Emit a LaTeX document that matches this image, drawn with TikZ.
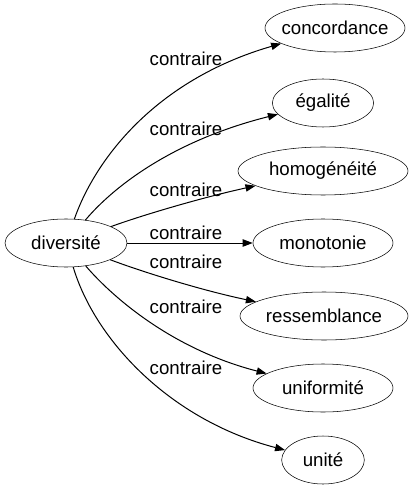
\documentclass[tikz,border=0pt]{standalone}
\usepackage{fontspec}
\setmainfont{Liberation Sans}
\usetikzlibrary{shapes.geometric,arrows.meta}

\newcommand{\mot}[1]{\makebox[0pt]{#1}}

\tikzset{
  word/.style={draw, ellipse, inner sep=0pt, minimum height=36pt,
    font=\fontsize{14}{16}\selectfont},
  rel/.style={font=\fontsize{14}{16}\selectfont, inner sep=0pt},
  link/.style={->, line width=0.75pt}
}

\begin{document}
\begin{tikzpicture}[x=0.75pt,y=-0.75pt,>={Triangle[length=7.5pt,width=5.5pt]}]
   \useasboundingbox (0,0) rectangle (413,491);

   \node[word, minimum width=91.5pt] (diversite) at (66,243) {\mot{diversité}};

   \node[word, minimum width=105pt]   (concordance)  at (335,28)  {\mot{concordance}};
   \node[word, minimum width=76pt]    (egalite)      at (323,103) {\mot{égalité}};
   \node[word, minimum width=127.5pt] (homogeneite)  at (323,171) {\mot{homogénéité}};
   \node[word, minimum width=105pt]   (monotonie)    at (323,243) {\mot{monotonie}};
   \node[word, minimum width=126pt]   (ressemblance) at (324,316) {\mot{ressemblance}};
   \node[word, minimum width=105pt]   (uniformite)   at (323,388) {\mot{uniformité}};
   \node[word, minimum width=62pt]    (unite)        at (323,460) {\mot{unité}};

   % edges
   \draw[link] (diversite) .. controls (95,160) and (155,80) .. (concordance);
   \draw[link] (diversite) .. controls (115,185) and (175,140) .. (egalite);
   \draw[link] (diversite) .. controls (140,216) and (200,198) .. (homogeneite);
   \draw[link] (diversite) -- (monotonie);
   \draw[link] (diversite) .. controls (140,271) and (200,290) .. (ressemblance);
   \draw[link] (diversite) .. controls (115,300) and (175,350) .. (uniformite);
   \draw[link] (diversite) .. controls (95,340) and (170,420) .. (unite);

   % labels
   \node[rel] (c1) at (186,59)  {contraire};
   \node[rel] (c2) at (186,129) {contraire};
   \node[rel] (c3) at (186,190) {contraire};
   \node[rel] (c4) at (186,233) {contraire};
   \node[rel] (c5) at (186,262) {contraire};
   \node[rel] (c6) at (186,307) {contraire};
   \node[rel] (c7) at (186,368) {contraire};
\end{tikzpicture}
\end{document}
